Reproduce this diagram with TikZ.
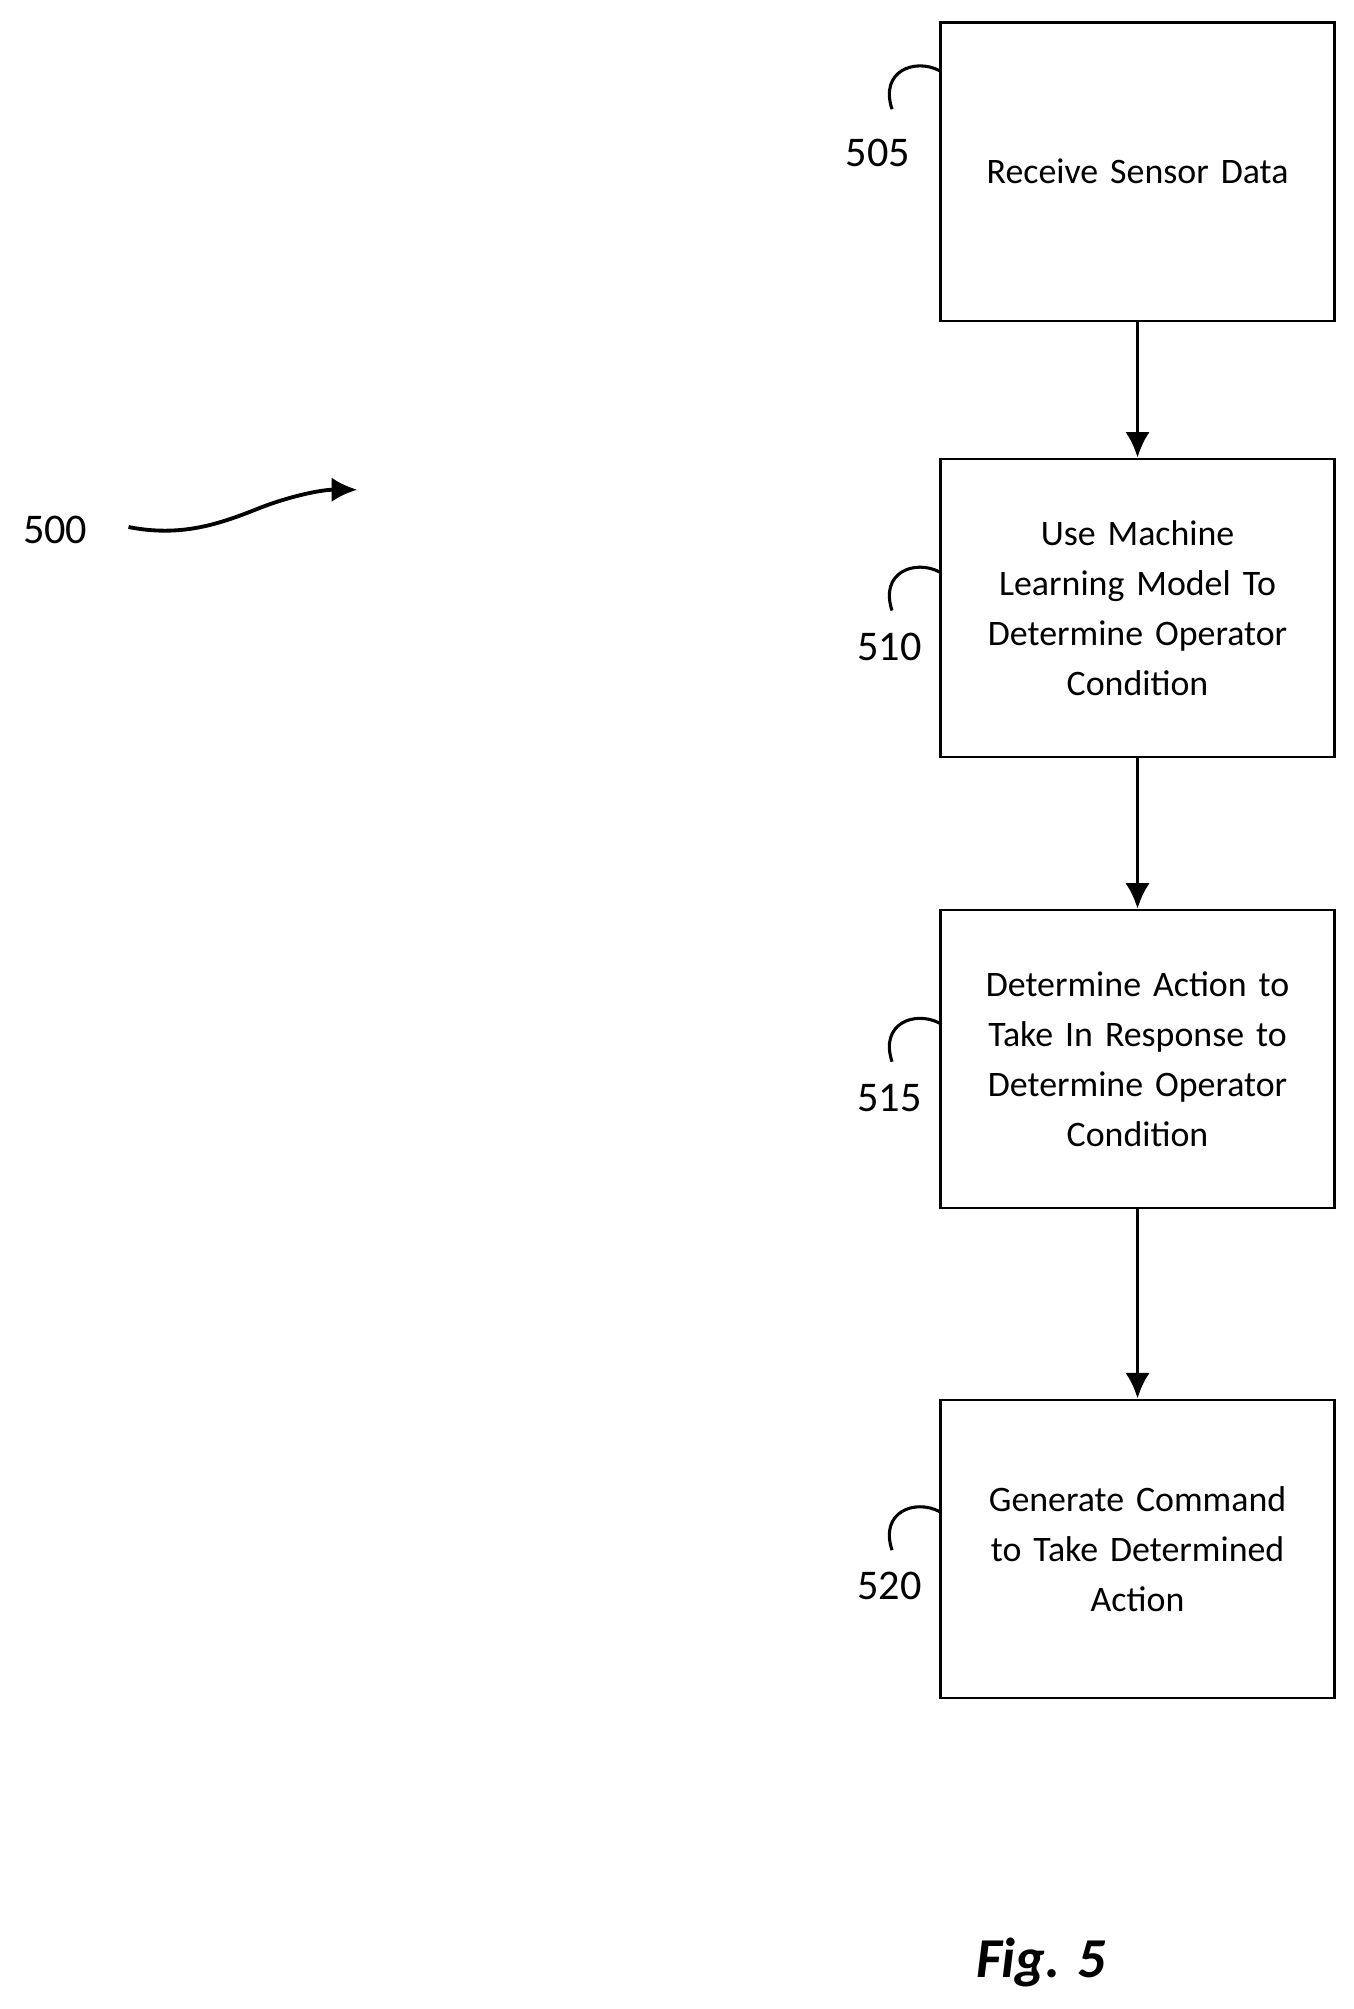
\documentclass[tikz,border=0pt]{standalone}
\usepackage{fontspec}
\setmainfont{Carlito}
\usetikzlibrary{positioning,arrows.meta}

\begin{document}
\begin{tikzpicture}[x=1bp,y=-1bp,
		block/.style={draw, line width=1.8pt, minimum width=306bp, minimum height=232bp, align=center, font=\fontsize{28}{39}\selectfont, text width=300bp},
		num/.style={font=\fontsize{33}{36}\selectfont},
		flow/.style={->, line width=3pt, >={Latex[length=20bp,width=19bp]}}]
		\useasboundingbox (0,0) rectangle (1053,1563);
		% Steps
		\node[block] (Receive) at (885,133.5) {Receive Sensor Data} ;
		\node[block] (UseModel) at (885,473) {Use Machine\\Learning Model To\\Determine Operator\\Condition} ;
		\node[block] (Decide) at (885,824) {Determine Action to\\Take In Response to\\Determine Operator\\Condition} ;
		\node[block] (Generate) at (885,1205) {Generate Command\\to Take Determined\\Action} ;
		% Reference numerals
		\node[num] (n505) at (683,119) {505} ;
		\node[num] (n510) at (692,503) {510} ;
		\node[num] (n515) at (692,854) {515} ;
		\node[num] (n520) at (692,1234) {520} ;
		\foreach \b/\y in {Receive/55, UseModel/445, Decide/796, Generate/1176} {
			\coordinate (h\b) at (731,\y) ;
			\draw[line width=2.4pt] (h\b) .. controls (712,\y-10) and (684,\y) .. (694,\y+30) ;
		}
		% Flow
		\draw[flow] (Receive) -- (UseModel) ;
		\draw[flow] (UseModel) -- (Decide) ;
		\draw[flow] (Decide) -- (Generate) ;
		% Figure
		\node[num] (n500) at (43,412) {500} ;
		\coordinate (a500) at (278,381) ;
		\draw[flow] (100,410) .. controls (140,418) and (170,408) .. (200,396) .. controls (225,386) and (250,381) .. (a500) ;
		\node[font=\fontsize{44}{48}\selectfont\bfseries\itshape] (Fig) at (810,1527) {Fig. 5} ;
	\end{tikzpicture}
\end{document}
